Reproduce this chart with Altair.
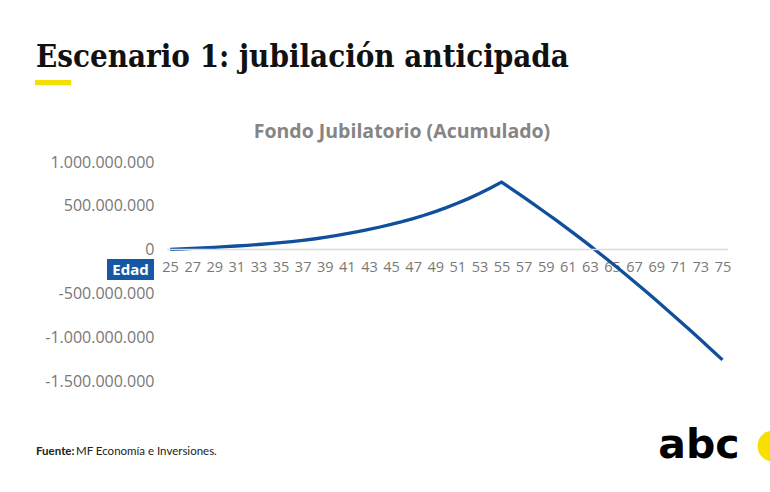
import altair as alt
import pandas as pd

# ---- data ----
edades = [25, 26, 27, 28, 29, 30, 31, 32, 33, 34,
          35, 36, 37, 38, 39, 40, 41, 42, 43, 44,
          45, 46, 47, 48, 49, 50, 51, 52, 53, 54,
          55, 56, 57, 58, 59, 60, 61, 62, 63, 64,
          65, 66, 67, 68, 69, 70, 71, 72, 73, 74, 75]
# fondo acumulado, millones de guaraníes
fondo_mill = [2, 7, 13, 19, 26, 33, 41, 49, 58, 68,
              79, 91, 105, 121, 139, 159, 181, 205, 231, 258,
              287, 319, 354, 392, 434, 479, 528, 582, 640, 703,
              770, 685, 599, 511, 421, 330, 237, 142, 45, -55,
              -156, -259, -364, -471, -579, -689, -800, -913, -1027, -1143, -1259]
x_ticks = [25, 27, 29, 31, 33, 35, 37, 39, 41, 43, 45, 47, 49, 51, 53, 55,
           57, 59, 61, 63, 65, 67, 69, 71, 73, 75]
y_ticks = [1000000000, 500000000, 0, -500000000, -1000000000, -1500000000]

titulo = "Escenario 1: jubilación anticipada"
subtitulo = "Fondo Jubilatorio (Acumulado)"
fuente_bold = "Fuente:"
fuente_txt = "MF Economía e Inversiones."
eje_x_nombre = "Edad"
logo_txt = "abc"

df = pd.DataFrame({"edad": edades, "fondo": [v * 1e6 for v in fondo_mill]})

W, H = 561, 219
PL, PT = 167, 162

xs = alt.Scale(domain=[24.72, 75.5], nice=False, zero=False)
ys = alt.Scale(domain=[-1500000000, 1000000000], nice=False, zero=False)

label_expr = "replace(replace(format(datum.value, ','), /,/g, '.'), '\u2212', '-')"

y_axis = alt.Axis(values=y_ticks, domain=False, ticks=False, grid=False,
                  title=None, labelExpr=label_expr,
                  labelFont="Open Sans", labelFontSize=16,
                  labelColor="#787878", labelPadding=13)
x_axis = alt.Axis(values=x_ticks, orient="bottom", offset=-131.4,
                  domain=False, ticks=False, grid=False, title=None,
                  labelFont="Open Sans", labelFontSize=14.5,
                  labelColor="#787878", labelPadding=11,
                  labelFlush=False, labelOverlap=False)

line = alt.Chart(df).mark_line(color="#0f4f9c", strokeWidth=3.3, strokeJoin="miter").encode(
    x=alt.X("edad:Q", scale=xs, axis=x_axis),
    y=alt.Y("fondo:Q", scale=ys, axis=y_axis),
)

zero_rule = alt.Chart(pd.DataFrame({"fondo": [0]})).mark_rule(
    color="#dcdcdc", strokeWidth=1.5
).encode(y=alt.Y("fondo:Q", scale=ys, axis=y_axis))


def txt(s, x, y, **kw):
    return alt.Chart(pd.DataFrame({"t": [s]})).mark_text(**kw).encode(
        text="t:N", x=alt.value(x), y=alt.value(y))


title_mark = txt(titulo, 36 - PL, 67 - PT, align="left", baseline="alphabetic",
                 font="DejaVu Serif Condensed", fontSize=31, fontWeight="bold",
                 color="#111111")

yellow_bar = alt.Chart(pd.DataFrame({"k": [0]})).mark_rect(color="#f2e000").encode(
    x=alt.value(35 - PL), x2=alt.value(71 - PL),
    y=alt.value(80 - PT), y2=alt.value(85 - PT))

subtitle_mark = txt(subtitulo, 402 - PL, 138 - PT, align="center", baseline="alphabetic",
                    font="Open Sans", fontSize=19.5, fontWeight="bold", color="#858585")

edad_box = alt.Chart(pd.DataFrame({"k": [0]})).mark_rect(color="#1558a6").encode(
    x=alt.value(107 - PL), x2=alt.value(154 - PL),
    y=alt.value(259 - PT), y2=alt.value(280 - PT))
edad_text = txt(eje_x_nombre, 130.5 - PL, 275 - PT, align="center", baseline="alphabetic",
                font="Open Sans", fontSize=15, fontWeight="bold", color="#ffffff")

fuente1 = txt(fuente_bold, 36 - PL, 455 - PT, align="left", baseline="alphabetic",
              font="Lato", fontSize=11.5, fontWeight="bold", color="#222222")
fuente2 = txt(fuente_txt, 76 - PL, 455 - PT, align="left", baseline="alphabetic",
              font="Lato", fontSize=11.5, color="#222222")

logo = txt(logo_txt, 699 - PL, 458 - PT, align="center", baseline="alphabetic",
           font="DejaVu Sans", fontSize=41, fontWeight="bold", color="#000000")
logo_dot = alt.Chart(pd.DataFrame({"k": [0]})).mark_circle(color="#f7e000", opacity=1).encode(
    x=alt.value(773 - PL), y=alt.value(446 - PT), size=alt.value(950))

chart = alt.layer(
    line, zero_rule, title_mark, yellow_bar, subtitle_mark, edad_box, edad_text,
    fuente1, fuente2, logo, logo_dot
).properties(
    width=W, height=H,
    autosize=alt.AutoSizeParams(type="none"),
    padding={"left": PL, "top": PT, "right": 770 - PL - W, "bottom": 492 - PT - H},
    background="#ffffff",
).configure_view(stroke=None)

chart.save("out.html", embed_options={"renderer": "svg", "actions": False})
